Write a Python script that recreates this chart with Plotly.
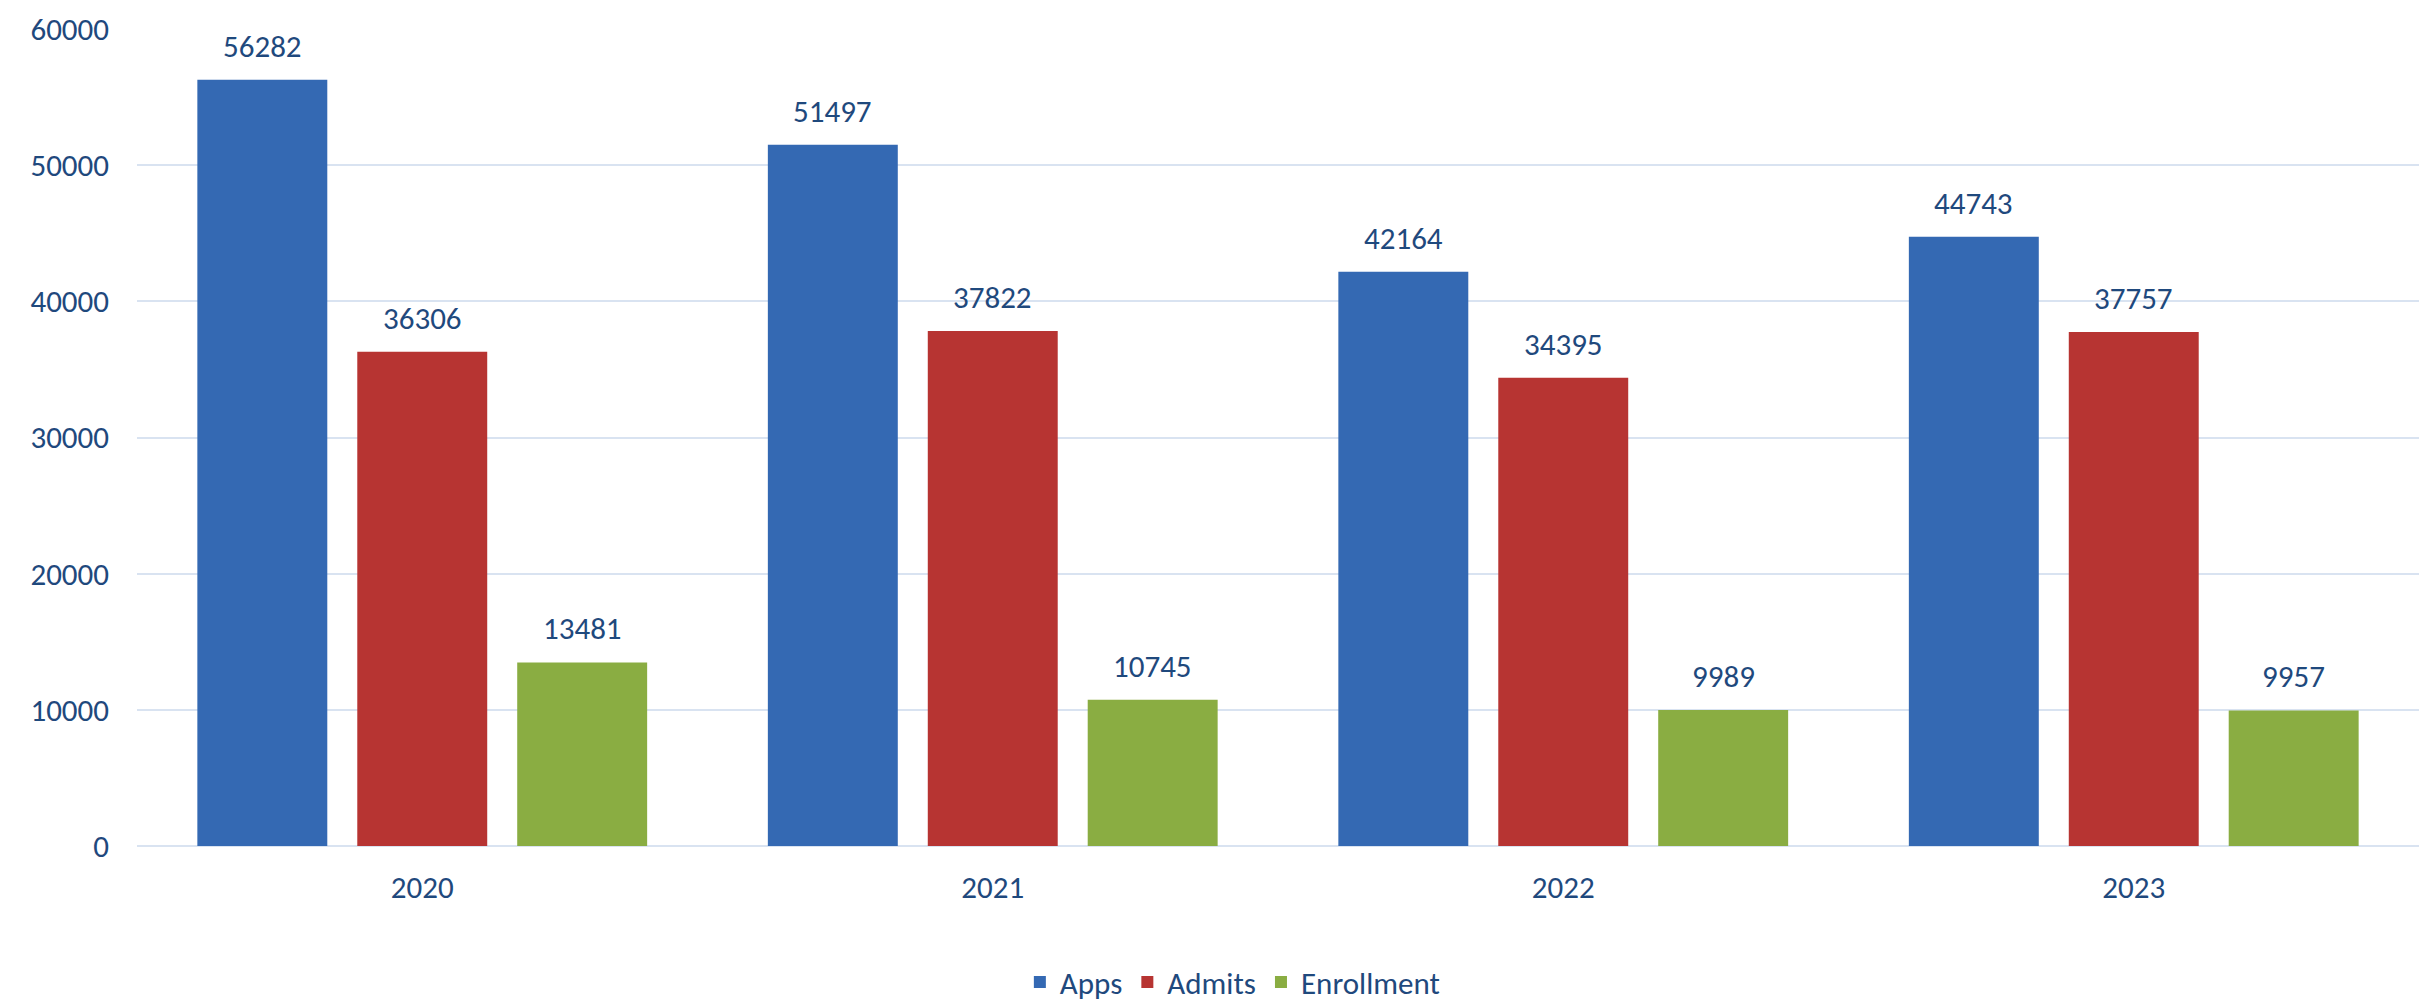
import plotly.graph_objects as go

years = ["2020", "2021", "2022", "2023"]
apps = [56282, 51497, 42164, 44743]
admits = [36306, 37822, 34395, 37757]
enrollment = [13481, 10745, 9989, 9957]
series_names = ["Apps", "Admits", "Enrollment"]
series_colors = ["#3469B3", "#B73432", "#8AAD42"]
y_ticks = [0, 10000, 20000, 30000, 40000, 50000, 60000]

FONT = "Carlito, Calibri, Lato, sans-serif"
TXT = "#1F497D"
FS = 31

fig = go.Figure()
all_series = [apps, admits, enrollment]
for name, vals, col in zip(series_names, all_series, series_colors):
    fig.add_trace(go.Bar(
        x=years, y=vals, name=name,
        marker=dict(color=col, line=dict(width=0)),
        hoverinfo="x+y+name",
    ))

# data labels above each bar (x given as category index)
slot_px = 160
for j, vals in enumerate(all_series):
    for i, v in enumerate(vals):
        fig.add_annotation(
            x=i, y=v, xref="x", yref="y", text=str(v), showarrow=False,
            xshift=(j - 1) * slot_px, yshift=13, yanchor="bottom",
            font=dict(family=FONT, size=FS, color=TXT),
        )

# page body has an 8px default margin, so the figure is sized to fit the window
fig.update_layout(
    width=2424, height=994,
    margin=dict(l=129, r=13, t=21, b=156, autoexpand=False),
    paper_bgcolor="white", plot_bgcolor="white",
    barmode="group", bargap=0.159, bargroupgap=0.1875,
    font=dict(family=FONT, size=FS, color=TXT),
    showlegend=True,
    legend=dict(orientation="h", x=0.48, xanchor="center", y=-0.167, yanchor="middle",
                font=dict(family=FONT, size=FS, color=TXT), itemwidth=30),
)
fig.update_xaxes(
    type="category", categoryorder="array", categoryarray=years,
    range=[-0.5, len(years) - 0.5], autorange=False, automargin=False,
    showgrid=False, showline=False, zeroline=False,
    tickfont=dict(family=FONT, size=FS, color=TXT), ticklabelstandoff=20,
)
fig.update_yaxes(
    range=[0, 60000], autorange=False, automargin=False,
    tickvals=y_ticks, ticktext=[str(t) for t in y_ticks],
    showgrid=True, gridcolor="#D9E3F1", gridwidth=2,
    zeroline=True, zerolinecolor="#D9E3F1", zerolinewidth=2,
    showline=False, tickfont=dict(family=FONT, size=FS, color=TXT),
    ticklabelstandoff=27,
)

fig.write_html("out.html")
